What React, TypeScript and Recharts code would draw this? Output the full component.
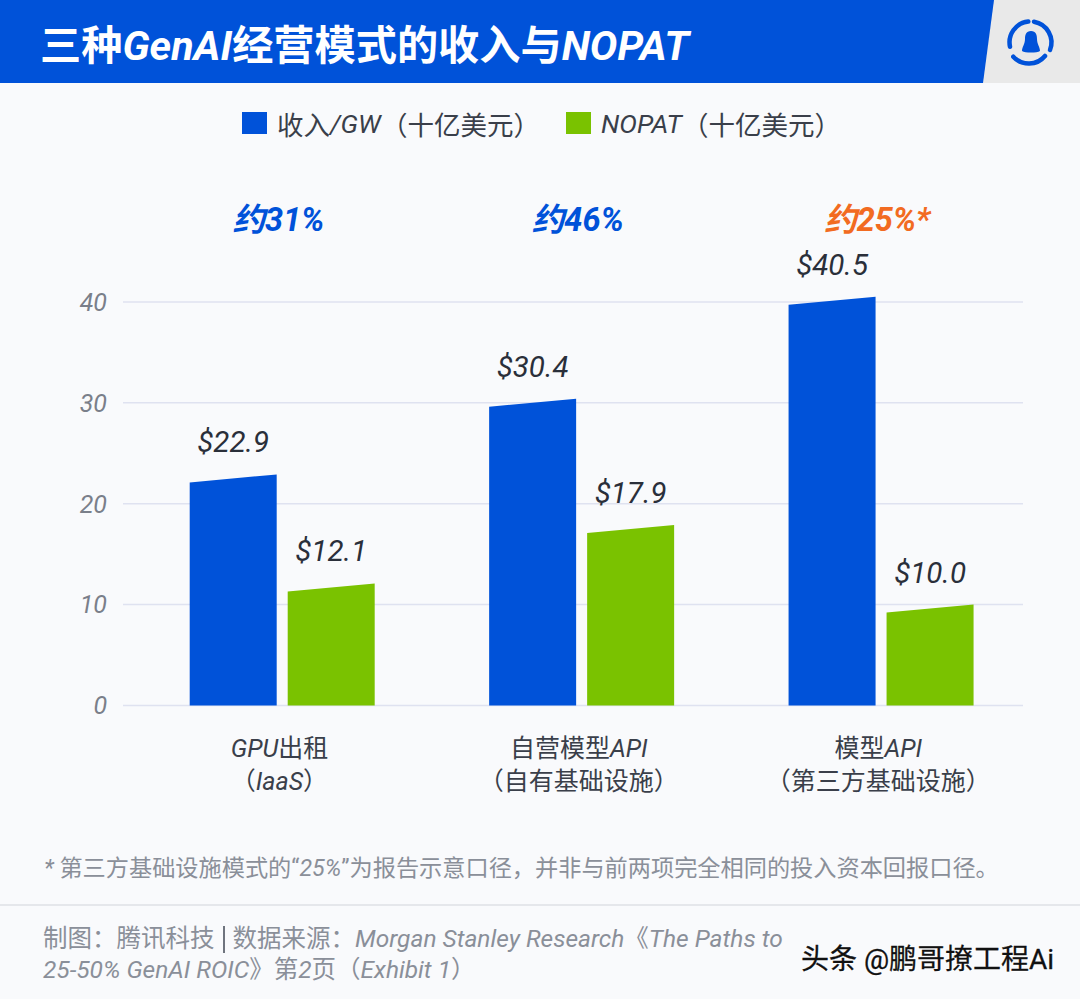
import React from "react";
import { BarChart, Bar, XAxis, YAxis, CartesianGrid, Legend, ReferenceDot } from "recharts";

const categories = ["GPU出租|（IaaS）", "自营模型API|（自有基础设施）", "模型API|（第三方基础设施）"];
const revenue = [22.9, 30.4, 40.5];
const nopat = [12.1, 17.9, 10.0];
const roic = ["约31%", "约46%", "约25%*"];
const roicColors = ["#0052D9", "#0052D9", "#F26B21"];
const yTicks = [0, 10, 20, 30, 40];
const rows = categories.map((c, i) => ({ c, revenue: revenue[i], nopat: nopat[i], roic: roic[i] }));

const SANS = '"Roboto", "Noto Sans CJK SC", sans-serif';
const BLUE = "#0052D9";
const GREEN = "#7AC200";

const splitRuns = (s: string) => s.match(/[\x00-\x7F$%.]+|[^\x00-\x7F]+/g) || [];
const Mixed = ({ text }: { text: string }) => (
  <>
    {splitRuns(text).map((r, i) => (
      <span key={i} style={{ fontStyle: /[\x00-\x7F]/.test(r) ? "italic" : "normal" }}>{r}</span>
    ))}
  </>
);
const MixedSvg = ({ text }: { text: string }) => (
  <>
    {splitRuns(text).map((r, i) => (
      <tspan key={i} fontStyle={/[\x00-\x7F]/.test(r) ? "italic" : "normal"}>{r}</tspan>
    ))}
  </>
);

const SlantBar = (p: any) => {
  const { x, y, width, height, fill } = p;
  const s = 8;
  return <path d={`M${x},${y + s}L${x + width},${y}L${x + width},${y + height}L${x},${y + height}Z`} fill={fill} />;
};

const CatTick = (p: any) => {
  const [a, b] = String(p.payload.value).split("|");
  return (
    <g fontFamily={SANS} fontSize={25} fill="#3A3F4A" textAnchor="middle">
      <text x={p.x - 3} y={757}><MixedSvg text={a} /></text>
      <text x={p.x - 3} y={790}><MixedSvg text={b} /></text>
    </g>
  );
};

const LegendBox = ({ payload }: any) => (
  <div style={{ position: "relative", width: 1080, height: 50 }}>
    {(payload || []).map((e: any, i: number) => (
      <div key={i} style={{ position: "absolute", left: i === 0 ? 242 : 566, top: 0, display: "flex", alignItems: "center", whiteSpace: "nowrap", fontFamily: SANS, fontSize: 26.5, color: "#3A3F4A", height: 40 }}>
        <span style={{ width: 25, height: 22, background: e.color, marginRight: 10, display: "inline-block" }} />
        <Mixed text={e.value} />
      </div>
    ))}
  </div>
);

const Logo = () => (
  <svg width={60} height={60} viewBox="0 0 60 60" style={{ position: "absolute", left: 1001, top: 13 }}>
    <g fill="none" stroke={BLUE} strokeWidth={4.5} strokeLinecap="round">
      <path d="M9 33.7A21 21 0 0 1 27.3 8.5" />
      <path d="M33 8.7A21 21 0 0 1 49 37" />
      <path d="M12.3 43.7A21 21 0 0 0 44 43" />
    </g>
    <path d="M30 18C25 18 24 22 24 26C24 31 21 34 21 38C24 40 36 40 39 38C39 34 36 31 36 26C36 22 35 18 30 18Z" fill={BLUE} />
  </svg>
);

export default function App() {
  return (
    <div style={{ position: "absolute", left: 0, top: 0, width: 1080, height: 999, background: "#F9FAFC", overflow: "hidden", fontFamily: SANS }}>
      <div style={{ position: "absolute", left: 0, top: 0, width: 1080, height: 83, background: "#E9E9E9" }} />
      <div style={{ position: "absolute", left: 0, top: 0, width: 994, height: 83, background: BLUE, clipPath: "polygon(0 0, 994px 0, 983px 83px, 0 83px)" }} />
      <Logo />
      <div style={{ position: "absolute", left: 40, top: 18, color: "#fff", fontSize: 41.2, fontWeight: 700, whiteSpace: "nowrap", lineHeight: "56px" }}>
        <Mixed text="三种GenAI经营模式的收入与NOPAT" />
      </div>

      <div style={{ position: "absolute", left: 0, top: 0 }}>
        <BarChart width={1080} height={999} data={rows} margin={{ top: 151, right: 57, bottom: 193.5, left: 0 }} barSize={87} barGap={11}>
          <CartesianGrid horizontal vertical={false} horizontalValues={yTicks} stroke="#DFE2F0" strokeWidth={1.5} />
          <XAxis dataKey="c" padding={{ left: 9.7, right: -8 }} axisLine={false} tickLine={false} tick={<CatTick />} interval={0} height={100} />
          <YAxis domain={[0, 50]} ticks={yTicks} axisLine={false} tickLine={false} width={123} tickMargin={10}
            tick={{ fontSize: 25, fontStyle: "italic", fill: "#7A7F8A", fontFamily: SANS }} />
          <Legend content={<LegendBox />} verticalAlign="top" itemSorter={null} wrapperStyle={{ left: 0, top: 103, width: 1080 }} />
          <Bar dataKey="revenue" name="收入/GW（十亿美元）" fill={BLUE} shape={<SlantBar />} isAnimationActive={false}
            label={{ position: "top", offset: 22, formatter: (v: number) => `$${v.toFixed(1)}`, fontSize: 29.5, fontStyle: "italic", fill: "#2A2F3A", fontFamily: SANS }} />
          <Bar dataKey="nopat" name="NOPAT（十亿美元）" fill={GREEN} shape={<SlantBar />} isAnimationActive={false}
            label={{ position: "top", offset: 22, formatter: (v: number) => `$${v.toFixed(1)}`, fontSize: 29.5, fontStyle: "italic", fill: "#2A2F3A", fontFamily: SANS }} />
          {rows.map((r, i) => (
            <ReferenceDot key={r.c} x={r.c} y={48} r={0} fill="none" stroke="none" ifOverflow="visible"
              label={(lp: any) => (
                <text x={lp.viewBox.x - 4} y={231} textAnchor="middle" fontFamily={SANS} fontSize={32.5} fontWeight={700} fontStyle="italic" fill={roicColors[i]}>{r.roic}</text>
              )} />
          ))}
        </BarChart>
      </div>

      <div style={{ position: "absolute", left: 44, top: 852, fontSize: 23.2, color: "#8A8F99", whiteSpace: "nowrap", lineHeight: "32px" }}>
        <Mixed text="* 第三方基础设施模式的“25%”为报告示意口径，并非与前两项完全相同的投入资本回报口径。" />
      </div>
      <div style={{ position: "absolute", left: 0, top: 904, width: 1080, height: 2, background: "#E5E7EB" }} />
      <div style={{ position: "absolute", left: 43, top: 923, fontSize: 24.5, color: "#8A8F99", whiteSpace: "nowrap", lineHeight: "32px" }}>
        <Mixed text="制图：腾讯科技" />
        <span style={{ display: "inline-block", width: 2, height: 27, background: "#6F747E", margin: "0 8px", verticalAlign: "-6px" }} />
        <Mixed text="数据来源：Morgan Stanley Research《The Paths to" />
      </div>
      <div style={{ position: "absolute", left: 43, top: 954, fontSize: 24.5, color: "#8A8F99", whiteSpace: "nowrap", lineHeight: "32px" }}>
        <Mixed text="25-50% GenAI ROIC》第2页（Exhibit 1）" />
      </div>
      <div style={{ position: "absolute", left: 801, top: 942, fontSize: 28, color: "#111", whiteSpace: "nowrap", lineHeight: "36px", WebkitTextStroke: "0.3px #111", textShadow: "1px 1px 1px #fff, -1px 0 1px #fff" }}>
        头条 @鹏哥撩工程Ai
      </div>
    </div>
  );
}
